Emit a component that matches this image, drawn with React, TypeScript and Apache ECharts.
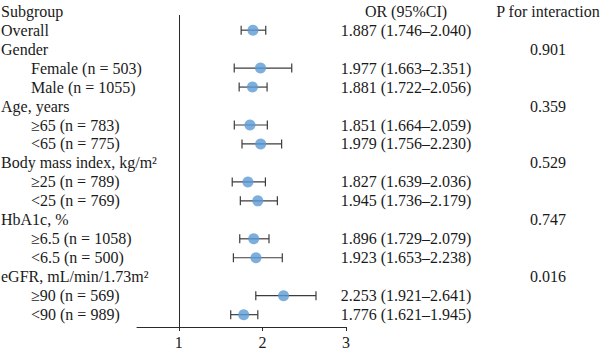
import { useEffect, useRef } from "react";
import * as echarts from "echarts";

// Forest plot: odds ratios with 95% CI by subgroup, plus P for interaction.
const subgroups = [
  "Overall",
  "Gender",
  "Female (n = 503)",
  "Male (n = 1055)",
  "Age, years",
  "≥65 (n = 783)",
  "<65 (n = 775)",
  "Body mass index, kg/m²",
  "≥25 (n = 789)",
  "<25 (n = 769)",
  "HbA1c, %",
  "≥6.5 (n = 1058)",
  "<6.5 (n = 500)",
  "eGFR, mL/min/1.73m²",
  "≥90 (n = 569)",
  "<90 (n = 989)",
];
const indented = [false, false, true, true, false, true, true, false, true, true, false, true, true, false, true, true];
const oddsRatios = [1.887, null, 1.977, 1.881, null, 1.851, 1.979, null, 1.827, 1.945, null, 1.896, 1.923, null, 2.253, 1.776];
const ciLower = [1.746, null, 1.663, 1.722, null, 1.664, 1.756, null, 1.639, 1.736, null, 1.729, 1.653, null, 1.921, 1.621];
const ciUpper = [2.04, null, 2.351, 2.056, null, 2.059, 2.23, null, 2.036, 2.179, null, 2.079, 2.238, null, 2.641, 1.945];
const pInteraction = [null, "0.901", null, null, "0.359", null, null, "0.529", null, null, "0.747", null, null, "0.016", null, null];
const headerSubgroup = "Subgroup";
const headerOR = "OR (95%CI)";
const headerP = "P for interaction";
const xTicks = [1, 2, 3];

const FONT = "'Liberation Serif', 'Times New Roman', serif";
const FONT_SIZE = 16;
const TEXT_COLOR = "#1a1a1a";
const LINE_COLOR = "#2a2a2a";

export default function App() {
  const ref = useRef<HTMLDivElement>(null);

  useEffect(() => {
    const chart = echarts.init(ref.current!, null, { renderer: "svg" });

    const points: number[][] = [];
    const intervals: number[][] = [];
    oddsRatios.forEach((v, i) => {
      if (v == null) return;
      points.push([v, i]);
      intervals.push([ciLower[i] as number, ciUpper[i] as number, i]);
    });
    // row -1 holds the column headers
    const textRows = [-1, ...subgroups.map((_, i) => i)];

    const fmt = (n: number) => n.toFixed(3);
    const textStyle = (extra: any) => ({
      fontFamily: FONT,
      fontSize: FONT_SIZE,
      fill: TEXT_COLOR,
      verticalAlign: "middle",
      ...extra,
    });

    chart.setOption({
      animation: false,
      grid: { left: 137, right: 254, top: 15, bottom: 28 },
      xAxis: {
        type: "value",
        min: 0.5,
        max: 3,
        splitLine: { show: false },
        axisLine: { onZero: false, lineStyle: { color: LINE_COLOR, width: 1 } },
        axisTick: { customValues: xTicks, length: 4, lineStyle: { color: LINE_COLOR } },
        axisLabel: {
          customValues: xTicks,
          fontFamily: FONT,
          fontSize: FONT_SIZE,
          color: TEXT_COLOR,
          margin: 7,
        },
      },
      yAxis: { type: "value", inverse: true, min: -0.8, max: 15.65, show: false },
      series: [
        {
          type: "custom",
          name: "ci",
          data: intervals,
          encode: { x: [0, 1], y: 2 },
          renderItem: (_params: any, api: any) => {
            const lo = api.coord([api.value(0), api.value(2)]);
            const hi = api.coord([api.value(1), api.value(2)]);
            const h = 4.5;
            const style = { stroke: "#3c3c3c", lineWidth: 1.2 };
            return {
              type: "group",
              children: [
                { type: "line", shape: { x1: lo[0], y1: lo[1], x2: hi[0], y2: hi[1] }, style },
                { type: "line", shape: { x1: lo[0], y1: lo[1] - h, x2: lo[0], y2: lo[1] + h }, style },
                { type: "line", shape: { x1: hi[0], y1: hi[1] - h, x2: hi[0], y2: hi[1] + h }, style },
              ],
            };
          },
          z: 2,
        },
        {
          type: "scatter",
          name: "OR",
          data: points,
          symbol: "circle",
          symbolSize: 11,
          itemStyle: { color: "#5b9bd5" },
          z: 3,
          markLine: {
            silent: true,
            symbol: "none",
            label: { show: false },
            lineStyle: { color: LINE_COLOR, width: 1, type: "solid" },
            data: [{ xAxis: 1 }],
          },
        },
        {
          type: "custom",
          name: "table",
          data: textRows.map((r) => [1, r]),
          encode: { x: 0, y: 1 },
          clip: false,
          renderItem: (_params: any, api: any) => {
            const row = api.value(1);
            const y = api.coord([1, row])[1];
            if (row < 0) {
              return {
                type: "group",
                children: [
                  { type: "text", x: 1, y, style: textStyle({ text: headerSubgroup, align: "left" }) },
                  { type: "text", x: 406, y, style: textStyle({ text: headerOR, align: "center" }) },
                  { type: "text", x: 548, y, style: textStyle({ text: headerP, align: "center" }) },
                ],
              };
            }
            const children: any[] = [
              {
                type: "text",
                x: indented[row] ? 31 : 1,
                y,
                style: textStyle({ text: subgroups[row], align: "left" }),
              },
            ];
            const or = oddsRatios[row];
            if (or != null) {
              children.push({
                type: "text",
                x: 406,
                y,
                style: textStyle({
                  text: `${fmt(or)} (${fmt(ciLower[row] as number)}–${fmt(ciUpper[row] as number)})`,
                  align: "center",
                }),
              });
            }
            const p = pInteraction[row];
            if (p != null) {
              children.push({ type: "text", x: 548, y, style: textStyle({ text: p, align: "center" }) });
            }
            return { type: "group", children };
          },
        },
      ],
    });

    return () => chart.dispose();
  }, []);

  return (
    <div
      ref={ref}
      style={{ position: "fixed", left: 0, top: 0, width: 600, height: 355, background: "#fff" }}
    />
  );
}
